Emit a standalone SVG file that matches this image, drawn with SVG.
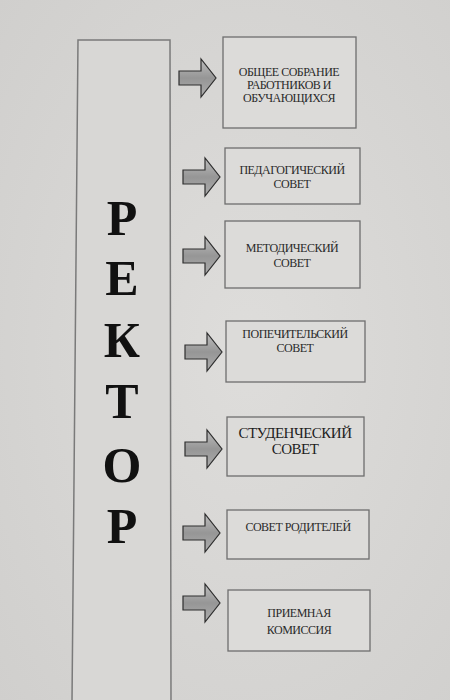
<svg xmlns="http://www.w3.org/2000/svg" width="450" height="700" viewBox="0 0 450 700">
<defs>
<linearGradient id="ag" x1="0" y1="0" x2="0" y2="1">
<stop offset="0" stop-color="#bdbdbd"/>
<stop offset="0.5" stop-color="#969696"/>
<stop offset="1" stop-color="#adadad"/>
</linearGradient>
<path id="arr" d="M0,-7 L22,-7 L22,-19 L37,0 L22,19 L22,7 L0,7 Z"/>
<radialGradient id="bg" cx="0.55" cy="0.5" r="0.8">
<stop offset="0" stop-color="#dedddb"/>
<stop offset="1" stop-color="#cfcecc"/>
</radialGradient>
</defs>
<style>
.box{fill:#dcdbd9;stroke:#6e6e6e;stroke-width:1.3}
.t{font-family:"Liberation Serif","Times New Roman",serif;font-size:12px;fill:#2a2a2a;text-anchor:middle;letter-spacing:-0.5px}
.tb{font-family:"Liberation Serif","Times New Roman",serif;font-size:15px;fill:#1e1e1e;text-anchor:middle;letter-spacing:-0.5px}
.big{font-family:"Liberation Serif","Times New Roman",serif;font-size:50px;font-weight:bold;fill:#111;text-anchor:middle}
.a{fill:url(#ag);stroke:#2e2e2e;stroke-width:1.2}
</style>
<rect width="450" height="700" fill="url(#bg)"/>
<g id="rector">
<path d="M78,40 L170,40 L171,702 L72,702 Z" fill="#d8d7d5" stroke="#7a7a7a" stroke-width="1.5"/>
<text class="big" x="122" y="235">Р</text>
<text class="big" x="122" y="295">Е</text>
<text class="big" x="122" y="357">К</text>
<text class="big" x="122" y="418">Т</text>
<text class="big" x="122" y="482">О</text>
<text class="big" x="122" y="543">Р</text>
</g>
<g id="connectors">
<use href="#arr" class="a" transform="translate(179,78)"/>
<use href="#arr" class="a" transform="translate(183,177)"/>
<use href="#arr" class="a" transform="translate(183,256)"/>
<use href="#arr" class="a" transform="translate(185,352)"/>
<use href="#arr" class="a" transform="translate(185,449)"/>
<use href="#arr" class="a" transform="translate(183,533)"/>
<use href="#arr" class="a" transform="translate(183,603)"/>
</g>
<g id="n1">
<rect class="box" x="223" y="37" width="133" height="91"/>
<text class="t" x="289" y="76">ОБЩЕЕ СОБРАНИЕ</text>
<text class="t" x="289" y="89">РАБОТНИКОВ И</text>
<text class="t" x="289" y="102">ОБУЧАЮЩИХСЯ</text>
</g>
<g id="n2">
<rect class="box" x="225" y="148" width="135" height="56"/>
<text class="t" x="292" y="174">ПЕДАГОГИЧЕСКИЙ</text>
<text class="t" x="292" y="188">СОВЕТ</text>
</g>
<g id="n3">
<rect class="box" x="225" y="221" width="135" height="67"/>
<text class="t" x="292" y="252">МЕТОДИЧЕСКИЙ</text>
<text class="t" x="292" y="267">СОВЕТ</text>
</g>
<g id="n4">
<rect class="box" x="226" y="321" width="139" height="61"/>
<text class="t" x="295" y="338">ПОПЕЧИТЕЛЬСКИЙ</text>
<text class="t" x="295" y="352">СОВЕТ</text>
</g>
<g id="n5">
<rect class="box" x="227" y="417" width="137" height="59"/>
<text class="tb" x="295" y="438">СТУДЕНЧЕСКИЙ</text>
<text class="tb" x="295" y="454">СОВЕТ</text>
</g>
<g id="n6">
<rect class="box" x="227" y="510" width="142" height="49"/>
<text class="t" x="298" y="531">СОВЕТ РОДИТЕЛЕЙ</text>
</g>
<g id="n7">
<rect class="box" x="228" y="590" width="142" height="61"/>
<text class="t" x="299" y="617">ПРИЕМНАЯ</text>
<text class="t" x="299" y="634">КОМИССИЯ</text>
</g>
</svg>
